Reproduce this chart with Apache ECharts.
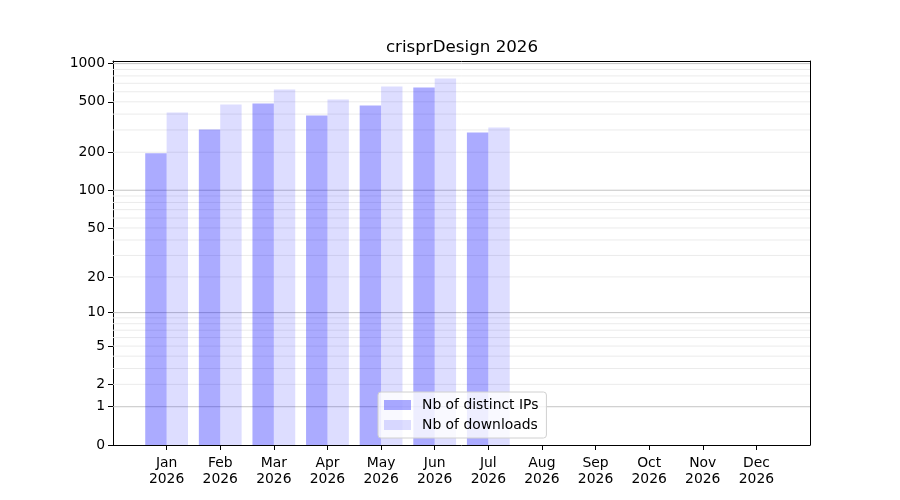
<!DOCTYPE html>
<html><head><meta charset="utf-8">
<script src="https://cdn.jsdelivr.net/npm/echarts@6/dist/echarts.min.js"></script>
<style>html,body{margin:0;padding:0;background:#fff}#c{width:900px;height:500px}</style>
</head><body><div id="c"></div>
<script>
const months = ['Jan','Feb','Mar','Apr','May','Jun','Jul','Aug','Sep','Oct','Nov','Dec'];
const year = '2026';
const distinctIPs = [196, 303, 485, 390, 468, 648, 287];
const downloads = [412, 477, 626, 522, 660, 763, 314];
const yTicks = [0, 1, 2, 5, 10, 20, 50, 100, 200, 500, 1000];
const majorGrid = [1, 10, 100, 1000];
const minorGrid = [2,3,4,5,6,7,8,9,20,30,40,50,60,70,80,90,200,300,400,500,600,700,800,900];

const tf = v => Math.log10(v + 1);
const inv = t => Math.round(Math.pow(10, t) - 1);
const font = 'DejaVu Sans';
const fs = 13.9;
const X_MIN = -1, X_MAX = 12, Y_MAX = 3.021;

const gridSeries = (vals, color) => vals.map(v => ({
  type: 'line', z: 0, silent: true, symbol: 'none', clip: true, xAxisIndex: 0, yAxisIndex: 0,
  lineStyle: {color: color, width: 1}, data: [[X_MIN, tf(v)], [X_MAX, tf(v)]]
}));

const chart = echarts.init(document.getElementById('c'), null, {renderer: 'canvas'});
const idx = months.map((m, i) => i);
const frameAxis = {axisLine: {show: true, onZero: false, lineStyle: {color: '#000', width: 1}},
  axisTick: {show: false}, axisLabel: {show: false}, splitLine: {show: false}};
chart.setOption({
  animation: false,
  textStyle: {fontFamily: font},
  title: {text: 'crisprDesign ' + year, left: 457, top: 34, textAlign: 'center',
    textStyle: {fontFamily: font, fontSize: 16.7, fontWeight: 'normal', color: '#000'}},
  grid: {left: 113, right: 90, top: 61, bottom: 55, show: false, containLabel: false},
  legend: {
    orient: 'vertical', left: 378, top: 392, itemWidth: 27, itemHeight: 10, itemGap: 6,
    padding: [6, 8, 6, 6], borderColor: '#d0d0d0', borderWidth: 1, borderRadius: 3,
    backgroundColor: 'rgba(255,255,255,0.8)',
    textStyle: {fontFamily: font, fontSize: fs, color: '#000', padding: [0,0,0,6]},
    data: [{name: 'Nb of distinct IPs', icon: 'rect'}, {name: 'Nb of downloads', icon: 'rect'}]
  },
  xAxis: [{
    type: 'value', min: X_MIN, max: X_MAX, position: 'bottom',
    axisLine: {show: true, onZero: false, lineStyle: {color: '#000', width: 1}},
    axisTick: {show: true, length: 5, lineStyle: {color: '#000'}, customValues: idx},
    axisLabel: {customValues: idx, formatter: v => months[v] + '\n' + year,
      fontFamily: font, fontSize: fs, color: '#000', lineHeight: 16, margin: 10, align: 'center'},
    splitLine: {show: false}
  }, Object.assign({type: 'value', min: X_MIN, max: X_MAX, position: 'top'}, frameAxis)],
  yAxis: [{
    type: 'value', min: 0, max: Y_MAX, position: 'left',
    axisLine: {show: true, onZero: false, lineStyle: {color: '#000', width: 1}},
    axisTick: {show: true, length: 5, lineStyle: {color: '#000'}, customValues: yTicks.map(tf)},
    axisLabel: {customValues: yTicks.map(tf), formatter: v => String(inv(v)),
      fontFamily: font, fontSize: fs, color: '#000', margin: 8},
    splitLine: {show: false}
  }, Object.assign({type: 'value', min: 0, max: Y_MAX, position: 'right'}, frameAxis)],
  series: [
    ...gridSeries(minorGrid, '#ebebeb'),
    ...gridSeries(majorGrid, '#c4c4c4'),
    {name: 'Nb of distinct IPs', type: 'bar', z: 2, barWidth: 21.4, barGap: '0%',
      itemStyle: {color: 'rgba(0,0,255,0.33)'},
      data: distinctIPs.map((v, i) => [i, tf(v)])},
    {name: 'Nb of downloads', type: 'bar', z: 2, barWidth: 21.4, barGap: '0%',
      itemStyle: {color: 'rgba(0,0,255,0.133)'},
      data: downloads.map((v, i) => [i, tf(v)])}
  ]
});
</script></body></html>
